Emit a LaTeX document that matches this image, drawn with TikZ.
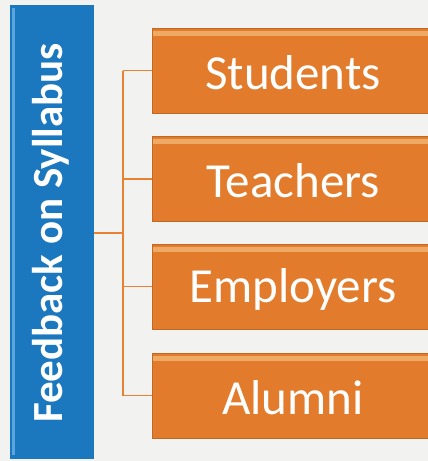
\documentclass[tikz,border=0pt]{standalone}
\usepackage{fontspec}
\setmainfont{Carlito}
\definecolor{bg}{RGB}{242,242,240}
\definecolor{fbblue}{RGB}{28,120,190}
\definecolor{fblight}{RGB}{90,165,220}
\definecolor{orbox}{RGB}{226,124,44}
\definecolor{orlight}{RGB}{238,170,100}
\definecolor{orline}{RGB}{232,130,50}
\begin{document}
\begin{tikzpicture}[x=1pt,y=-1pt,
  catbox/.style={rectangle, fill=orbox, draw=orbox!85!black, line width=0.4pt,
    minimum width=282pt, minimum height=85pt, inner sep=0pt, anchor=west},
  cattext/.style={text=white, font=\fontsize{49}{51}\selectfont},
  conn/.style={draw=orline, line width=1.4pt}]
\useasboundingbox[fill=bg] (0,0) rectangle (428,461);
% blue title bar
\node[rectangle, fill=fbblue, minimum width=84pt, minimum height=454pt, inner sep=0pt, anchor=north west] (fb) at (10,5) {};
\fill[fblight] (12,8) rectangle (15,455);
\node[rotate=90, text=white, font=\bfseries\fontsize{43}{45}\selectfont] (fbt) at (51,233) {Feedback on Syllabus};
% category boxes
\node[catbox] (s) at (152,70.5) {};
\node[catbox] (t) at (152,179) {};
\node[catbox] (e) at (152,286.5) {};
\node[catbox] (a) at (152,395.5) {};
\foreach \n in {s,t,e,a}{
  \fill[orlight] ([yshift=-3pt,xshift=1pt]\n.north west) rectangle ([yshift=-8pt,xshift=-1pt]\n.north east);
}
\node[cattext] (st) at (293,73) {Students};
\node[cattext] (tt) at (293,181) {Teachers};
\node[cattext] (et) at (293,289) {Employers};
\node[cattext] (at) at (293,398) {Alumni};
% connectors
\coordinate (j) at (123,233);
\draw[conn] (fb.east |- j) -- (j);
\draw[conn] (j |- s.west) -- (j |- a.west);
\foreach \n in {s,t,e,a}{
  \draw[conn] (j |- \n.west) -- (\n.west);
}
\end{tikzpicture}
\end{document}
